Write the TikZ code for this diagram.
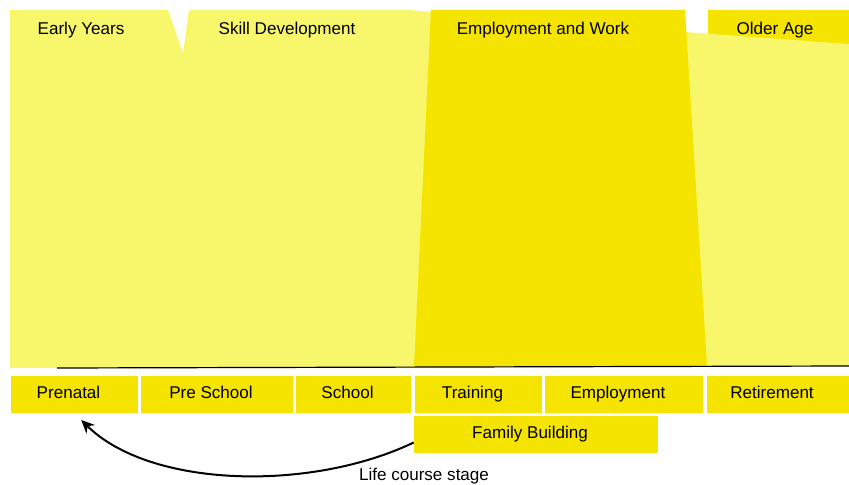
\documentclass[tikz,border=0pt]{standalone}
\usepackage{fontspec}
\setmainfont{Liberation Sans}
\usepackage{xcolor}
\usepackage{tikz}
\usetikzlibrary{arrows.meta}
\definecolor{paleyel}{RGB}{248,246,106}
\definecolor{deepyel}{RGB}{245,228,0}

\begin{document}
\begin{tikzpicture}[x=0.75pt,y=-0.75pt,
		every node/.style={font=\fontsize{12.8}{15}\selectfont,text height=9.2pt,text depth=2.6pt},
		stage/.style={fill=deepyel,inner sep=0pt,minimum height=27.75pt,execute at end node={\hspace*{9pt}}}]
			\useasboundingbox (0,0) rectangle (849,485);
			%
			\fill[deepyel] (708,10) rectangle (849,44);
			\fill[paleyel] (685,32) -- (849,44) -- (849,366) -- (690,366) -- cycle;
			\fill[paleyel] (10,10) -- (168,10) -- (183,53) -- (189,10) -- (410,10) -- (431,12) -- (431,367) -- (10,368) -- cycle;
			\fill[deepyel] (431,10) -- (685,10) -- (707,366) -- (414,367) -- cycle;
			\draw[line width=0.9pt] (57,368) -- (849,366);
			%
			\node (early) at (81,30) {Early Years};
			\node (skill) at (287,30) {Skill Development};
			\node (work) at (543,30) {Employment and Work};
			\node (older) at (775,30) {Older Age};
			%
			\node[stage,minimum width=95.25pt] (prenatal) at (74.5,394.5) {Prenatal};
			\node[stage,minimum width=114pt] (preschool) at (217,394.5) {Pre School};
			\node[stage,minimum width=86.25pt] (school) at (353.5,394.5) {School};
			\node[stage,minimum width=95.25pt] (training) at (478.5,394.5) {Training};
			\node[stage,minimum width=118.5pt] (employment) at (624,394.5) {Employment};
			\node[stage,minimum width=106.5pt] (retirement) at (778,394.5) {Retirement};
			\node[stage,minimum width=183pt] (family) at (536,434.5) {Family Building};
			\node (course) at (424,476) {Life course stage};
			%
			\draw[-{Stealth[length=10pt,width=9pt]},line width=1.5pt]
				([yshift=-6pt]family.west) .. controls (310,492) and (150,488) .. ([xshift=5pt,yshift=-5pt]prenatal.south);
\end{tikzpicture}
\end{document}
